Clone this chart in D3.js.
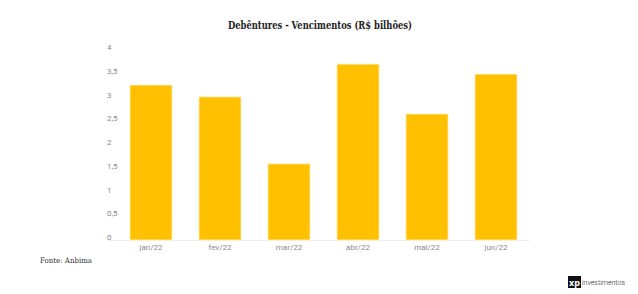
<!DOCTYPE html>
<html lang="pt">
<head>
<meta charset="UTF-8">
<title>Debêntures - Vencimentos</title>
<script src="https://d3js.org/d3.v7.min.js"></script>
<style>
    body { margin: 0; background: #fff; }
    svg { display: block; }
</style>
</head>
<body>
<div id="chart"></div>
<script>
    // Data
    const months = ["jan/22", "fev/22", "mar/22", "abr/22", "mai/22", "jun/22"];
    const values = [3.2, 2.95, 1.54, 3.64, 2.59, 3.43];
    const yTicks = [0, 0.5, 1, 1.5, 2, 2.5, 3, 3.5, 4];

    const width = 638, height = 294;
    const svg = d3.select("#chart").append("svg")
        .attr("width", width)
        .attr("height", height);

    const x = d3.scaleBand()
        .domain(months)
        .range([116.5, 530.5])
        .paddingInner(0.39)
        .paddingOuter(0.195);

    const y = d3.scaleLinear()
        .domain([0, 4])
        .range([237, 47]);

    const fmt = d => String(d).replace(".", ",");

    // title
    svg.append("text")
        .attr("x", 320)
        .attr("y", 29)
        .attr("text-anchor", "middle")
        .attr("textLength", 184)
        .attr("lengthAdjust", "spacingAndGlyphs")
        .style("font-family", "'DejaVu Serif', serif")
        .style("font-weight", "bold")
        .style("font-size", "10.5px")
        .style("fill", "#222")
        .text("Debêntures - Vencimentos (R$ bilhões)");

    // y tick labels
    svg.selectAll(".ytick")
        .data(yTicks)
        .enter()
        .append("text")
        .attr("class", "ytick")
        .attr("x", 107)
        .attr("y", d => y(d) + 3)
        .style("font-family", "Roboto, sans-serif")
        .style("font-size", "8px")
        .style("fill", "#8a8a8a")
        .text(fmt);

    // baseline
    svg.append("line")
        .attr("x1", 108).attr("x2", 530)
        .attr("y1", 240.5).attr("y2", 240.5)
        .attr("stroke", "#eeeeee")
        .attr("stroke-width", 1);

    // bars
    svg.selectAll(".bar")
        .data(values)
        .enter()
        .append("rect")
        .attr("class", "bar")
        .attr("x", (d, i) => x(months[i]))
        .attr("y", d => y(d))
        .attr("width", x.bandwidth())
        .attr("height", d => y(0) - y(d) + 3)
        .attr("fill", "#ffc000")
        .attr("stroke", "#fff3c4")
        .attr("stroke-width", 0.8);

    // x labels
    svg.selectAll(".xlabel")
        .data(months)
        .enter()
        .append("text")
        .attr("class", "xlabel")
        .attr("x", d => x(d) + x.bandwidth() / 2)
        .attr("y", 250)
        .attr("text-anchor", "middle")
        .style("font-family", "Roboto, sans-serif")
        .style("font-size", "8px")
        .style("fill", "#8a8a8a")
        .text(d => d);

    // source
    svg.append("text")
        .attr("x", 40)
        .attr("y", 263)
        .attr("textLength", 52)
        .attr("lengthAdjust", "spacingAndGlyphs")
        .style("font-family", "'DejaVu Serif', serif")
        .style("font-size", "7.5px")
        .style("fill", "#333")
        .text("Fonte: Anbima");

    // xp logo
    const logo = svg.append("g").attr("transform", "translate(568,276)");
    logo.append("rect")
        .attr("width", 13).attr("height", 12)
        .attr("fill", "#111");
    logo.append("text")
        .attr("x", 6.5).attr("y", 9.5)
        .attr("text-anchor", "middle")
        .style("font-family", "'DejaVu Sans', sans-serif")
        .style("font-weight", "bold")
        .style("font-size", "8px")
        .style("fill", "#fff")
        .text("xp");
    logo.append("text")
        .attr("x", 14).attr("y", 9)
        .attr("textLength", 43)
        .attr("lengthAdjust", "spacingAndGlyphs")
        .style("font-family", "Roboto, sans-serif")
        .style("font-weight", "300")
        .style("font-size", "8px")
        .style("fill", "#222")
        .text("investimentos");
</script>
</body>
</html>
